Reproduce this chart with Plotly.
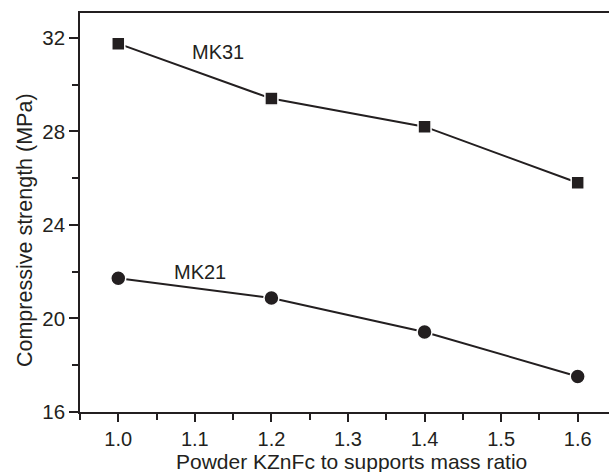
import plotly.graph_objects as go

ratio = [1.0, 1.2, 1.4, 1.6]
mk31 = [31.75, 29.4, 28.2, 25.8]
mk21 = [21.72, 20.87, 19.42, 17.52]
ytick_vals = [16, 20, 24, 28, 32]
xtick_vals = [1.0, 1.1, 1.2, 1.3, 1.4, 1.5, 1.6]

dark = "#231f20"
font = "Liberation Sans, Arial, sans-serif"

fig = go.Figure()
fig.add_trace(go.Scatter(
    x=ratio, y=mk31, mode="lines+markers",
    line=dict(color=dark, width=2),
    marker=dict(symbol="square", size=13, color=dark, line=dict(color="white", width=1.5)),
    showlegend=False))
fig.add_trace(go.Scatter(
    x=ratio, y=mk21, mode="lines+markers",
    line=dict(color=dark, width=2),
    marker=dict(symbol="circle", size=15, color=dark, line=dict(color="white", width=1.5)),
    showlegend=False))

fig.add_annotation(x=1.13, y=31.4, text="MK31", showarrow=False,
                   font=dict(family=font, size=20, color=dark))
fig.add_annotation(x=1.107, y=22.0, text="MK21", showarrow=False,
                   font=dict(family=font, size=20, color=dark))

# axis titles as annotations for precise placement
fig.add_annotation(xref="paper", yref="paper", x=0.514, y=-0.124,
                   xanchor="center", yanchor="middle", showarrow=False,
                   text="Powder KZnFc to supports mass ratio",
                   font=dict(family=font, size=21, color=dark))
fig.add_annotation(xref="paper", yref="paper", x=-0.104, y=0.456,
                   xanchor="center", yanchor="middle", showarrow=False,
                   textangle=-90, text="Compressive strength (MPa)",
                   font=dict(family=font, size=21.5, color=dark))

fig.update_layout(
    width=609, height=472,
    margin=dict(l=80, r=0, t=13, b=60),
    paper_bgcolor="white", plot_bgcolor="white",
    font=dict(family=font, size=20, color=dark),
    xaxis=dict(
        range=[0.95, 1.6409], tickvals=xtick_vals, ticktext=[f"{v:.1f}" for v in xtick_vals],
        ticks="outside", ticklen=8, tickwidth=1.5, tickcolor=dark,
        minor=dict(dtick=0.05, tick0=0.95, ticks="outside", ticklen=6, tickwidth=1.5, tickcolor=dark),
        showline=True, linecolor=dark, linewidth=1.5, mirror=True,
        showgrid=False, zeroline=False,
        tickfont=dict(size=20),
    ),
    yaxis=dict(
        range=[16, 33.06], tickvals=ytick_vals,
        ticks="outside", ticklen=9, tickwidth=1.5, tickcolor=dark,
        minor=dict(dtick=2, tick0=16, ticks="outside", ticklen=6, tickwidth=1.5, tickcolor=dark),
        showline=True, linecolor=dark, linewidth=1.5,
        showgrid=False, zeroline=False,
        tickfont=dict(size=20.5),
    ),
)

fig.write_html("out.html")
